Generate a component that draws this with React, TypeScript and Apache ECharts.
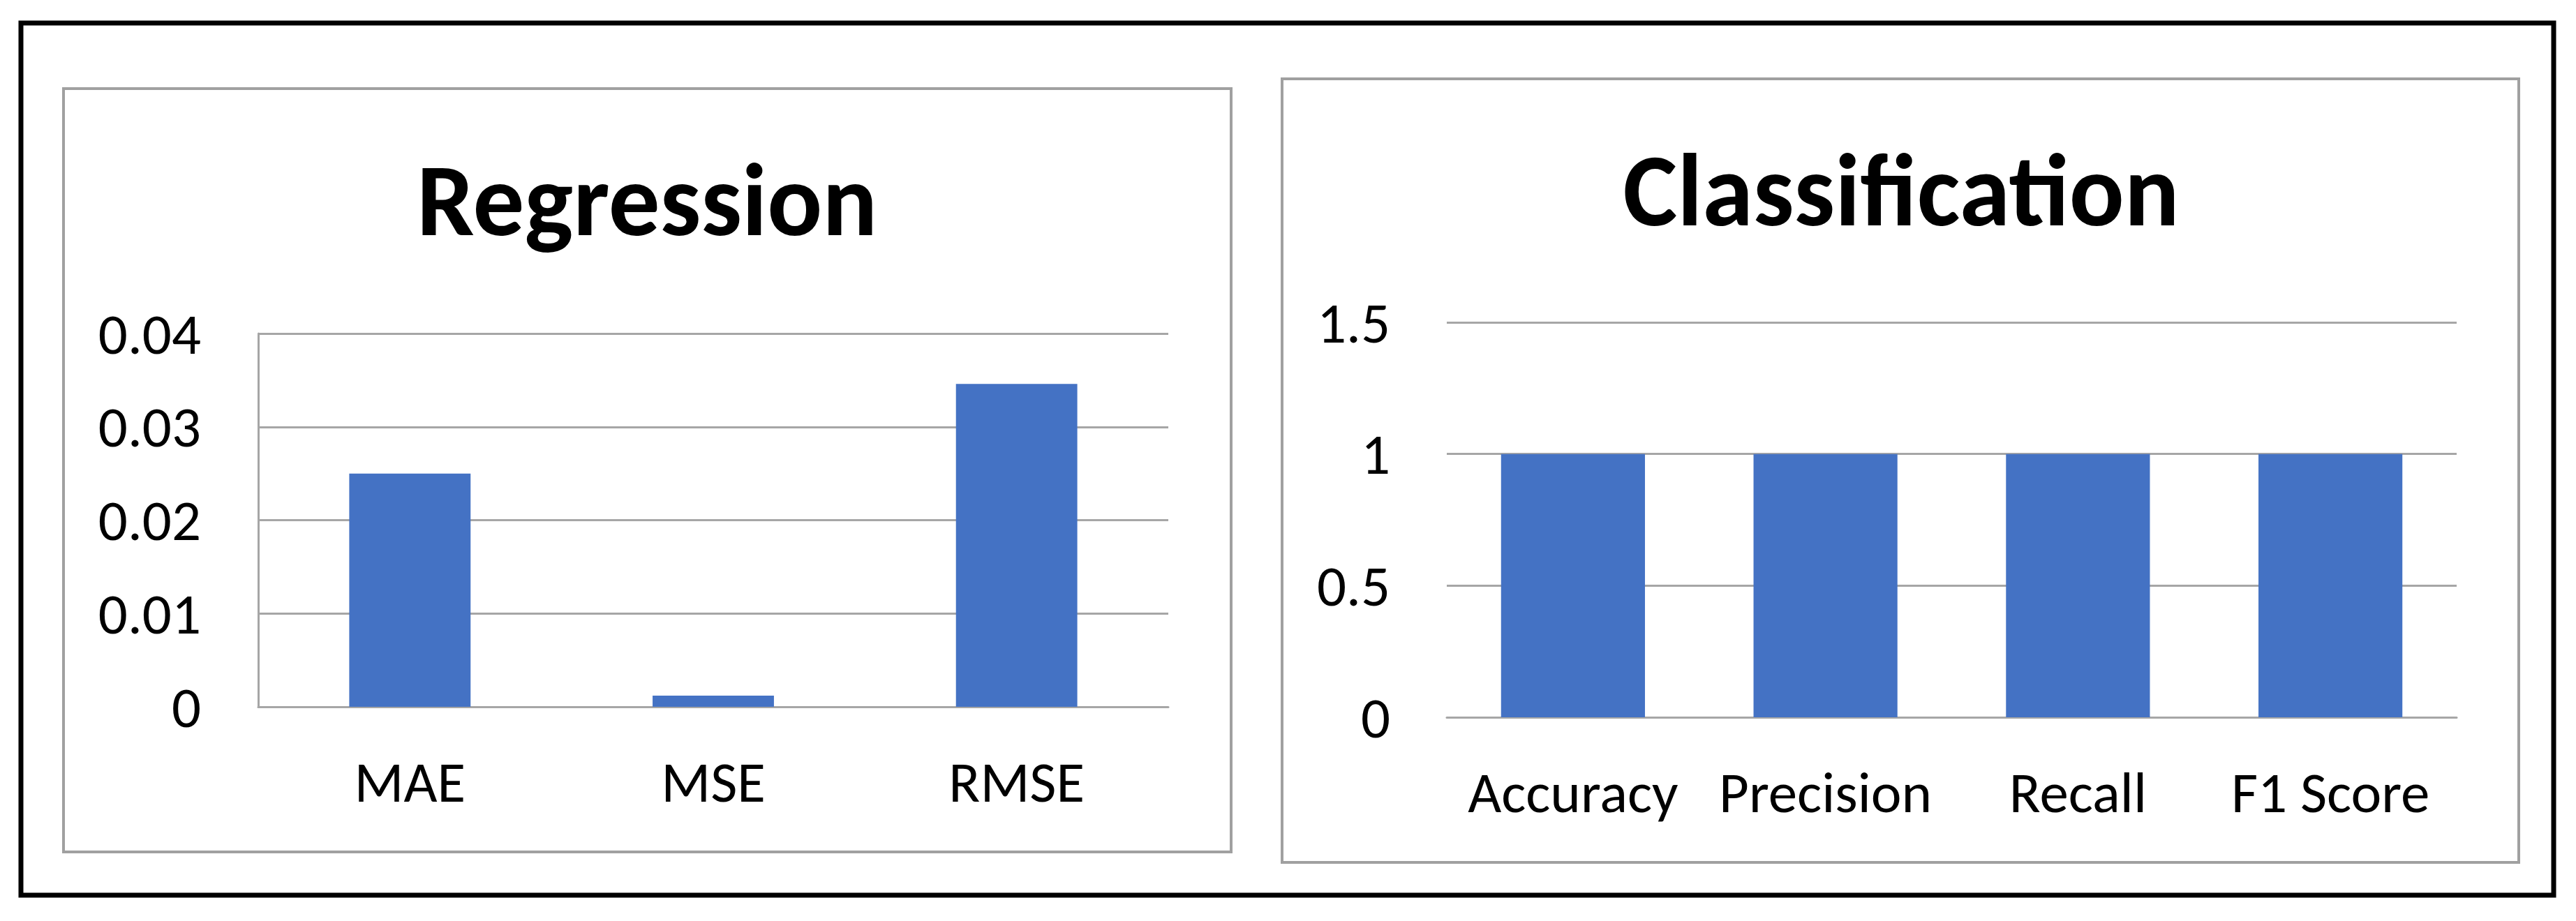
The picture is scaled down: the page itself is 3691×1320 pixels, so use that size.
import React, { useEffect, useRef } from "react";
import * as echarts from "echarts";

const regTitle = "Regression";
const regCategories = ["MAE", "MSE", "RMSE"];
const regValues = [0.025, 0.0012, 0.0346];
const regTicks = ["0", "0.01", "0.02", "0.03", "0.04"];
const regInterval = 0.01;

const clsTitle = "Classification";
const clsCategories = ["Accuracy", "Precision", "Recall", "F1 Score"];
const clsValues = [1, 1, 1, 1];
const clsTicks = ["0", "0.5", "1", "1.5"];
const clsInterval = 0.5;

const FONT = "Calibri, Carlito, 'Liberation Sans', Arial, sans-serif";
const BAR = "#4472C4";
const GRID = "#a6a6a6";

export default function App() {
  const ref = useRef<HTMLDivElement>(null);
  useEffect(() => {
    if (!ref.current) return;
    const chart = echarts.init(ref.current, null, { renderer: "svg" });
    const labelStyle = { color: "#000", fontFamily: FONT, fontSize: 83 };
    const tickFmt = (ticks: string[], interval: number) => (v: number) => {
      const i = Math.round(v / interval);
      return ticks[i] ?? String(v);
    };
    chart.setOption({
      animation: false,
      backgroundColor: "#fff",
      grid: [
        { left: 370, top: 478, width: 1304, height: 535, containLabel: false },
        { left: 2073, top: 462, width: 1447, height: 566, containLabel: false },
      ],
      xAxis: [
        {
          type: "category",
          gridIndex: 0,
          data: regCategories,
          axisLine: { show: true, lineStyle: { color: GRID, width: 3 } },
          axisTick: { show: false },
          axisLabel: { ...labelStyle, margin: 66 },
        },
        {
          type: "category",
          gridIndex: 1,
          data: clsCategories,
          axisLine: { show: true, lineStyle: { color: GRID, width: 3 } },
          axisTick: { show: false },
          axisLabel: { ...labelStyle, margin: 66, interval: 0 },
        },
      ],
      yAxis: [
        {
          type: "value",
          gridIndex: 0,
          min: 0,
          max: 0.04,
          interval: regInterval,
          axisLine: { show: true, lineStyle: { color: GRID, width: 3 } },
          axisTick: { show: false },
          splitLine: { show: true, lineStyle: { color: GRID, width: 3 } },
          axisLabel: { ...labelStyle, margin: 82, formatter: tickFmt(regTicks, regInterval) },
        },
        {
          type: "value",
          gridIndex: 1,
          min: 0,
          max: 1.5,
          interval: clsInterval,
          axisLine: { show: false },
          axisTick: { show: false },
          splitLine: { show: true, lineStyle: { color: GRID, width: 3 } },
          axisLabel: { ...labelStyle, margin: 81, formatter: tickFmt(clsTicks, clsInterval) },
        },
      ],
      series: [
        {
          type: "bar",
          xAxisIndex: 0,
          yAxisIndex: 0,
          data: regValues,
          barCategoryGap: "60%",
          itemStyle: { color: BAR },
        },
        {
          type: "bar",
          xAxisIndex: 1,
          yAxisIndex: 1,
          data: clsValues,
          barCategoryGap: "43%",
          itemStyle: { color: BAR },
        },
      ],
      graphic: [
        {
          type: "rect",
          shape: { x: 30, y: 33, width: 3629, height: 1250 },
          style: { fill: "none", stroke: "#000", lineWidth: 7 },
          silent: true,
        },
        {
          type: "rect",
          shape: { x: 91, y: 127, width: 1673, height: 1094 },
          style: { fill: "none", stroke: "#a0a0a0", lineWidth: 4 },
          silent: true,
        },
        {
          type: "rect",
          shape: { x: 1837, y: 113, width: 1772, height: 1123 },
          style: { fill: "none", stroke: "#a0a0a0", lineWidth: 4 },
          silent: true,
        },
        {
          type: "text",
          x: 927,
          y: 286,
          style: {
            text: regTitle,
            fill: "#000",
            font: `bold 147px ${FONT}`,
            textAlign: "center",
            textVerticalAlign: "middle",
          },
        },
        {
          type: "text",
          x: 2724,
          y: 272,
          style: {
            text: clsTitle,
            fill: "#000",
            font: `bold 147px ${FONT}`,
            textAlign: "center",
            textVerticalAlign: "middle",
          },
        },
      ],
    });
    return () => chart.dispose();
  }, []);
  return (
    <div
      ref={ref}
      style={{ position: "fixed", left: 0, top: 0, width: 3691, height: 1320, background: "#fff" }}
    />
  );
}
